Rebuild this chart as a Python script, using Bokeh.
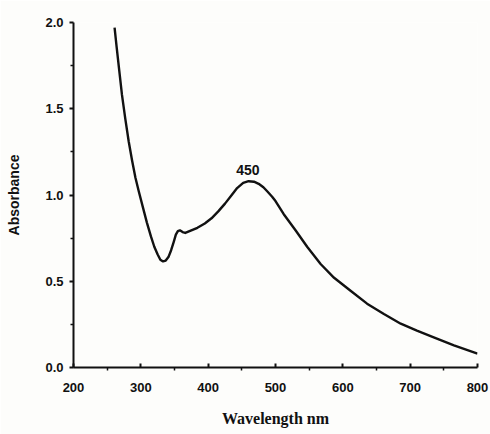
from bokeh.plotting import figure
from bokeh.embed import file_html
from bokeh.resources import INLINE
from bokeh.models import Range1d, FixedTicker, Label

# Data
wavelength = [261, 264, 268, 272, 277, 282, 287, 292, 297, 303, 309, 315, 320, 325, 329,
              333, 337, 341, 345, 349, 352, 355, 358, 362, 366, 375, 384, 395, 405, 415,
              425, 435, 443, 452, 460, 468, 475, 482, 488, 495, 500, 512, 530, 547, 567,
              587, 611, 636, 661, 686, 710, 735, 765, 800]
absorbance = [1.97, 1.86, 1.72, 1.58, 1.44, 1.31, 1.20, 1.10, 1.02, 0.93, 0.84, 0.76, 0.70,
              0.655, 0.625, 0.615, 0.62, 0.64, 0.68, 0.73, 0.77, 0.79, 0.795, 0.785, 0.78,
              0.795, 0.81, 0.835, 0.865, 0.905, 0.95, 1.00, 1.04, 1.07, 1.08, 1.077, 1.065,
              1.045, 1.02, 0.99, 0.965, 0.89, 0.794, 0.70, 0.60, 0.52, 0.446, 0.37, 0.31,
              0.254, 0.214, 0.175, 0.128, 0.08]
x_ticks = [200, 300, 400, 500, 600, 700, 800]
y_ticks = [0.0, 0.5, 1.0, 1.5, 2.0]
peak_label = "450"
peak_x = 459
peak_y = 1.08

p = figure(width=490, height=434, output_backend="svg", toolbar_location=None,
           x_range=Range1d(200, 800), y_range=Range1d(0, 2.0),
           min_border_left=73, min_border_right=13, min_border_top=22, min_border_bottom=67)
p.outline_line_color = None
p.xgrid.visible = False
p.ygrid.visible = False
p.background_fill_color = "#fdfdfb"
p.border_fill_color = "#fdfdfb"

p.line(wavelength, absorbance, line_color="#111111", line_width=2.4, line_join="round")

lbl = Label(x=peak_x, y=peak_y, text=peak_label, text_font="Liberation Sans",
            text_font_size="14px", text_font_style="bold", text_align="center",
            text_baseline="bottom", y_offset=6, text_color="#111111")
p.add_layout(lbl)

for ax in (p.xaxis[0], p.yaxis[0]):
    ax.axis_line_width = 2
    ax.axis_line_color = "#111111"
    ax.major_tick_line_color = "#111111"
    ax.major_tick_line_width = 2
    ax.minor_tick_line_color = "#111111"
    ax.minor_tick_line_width = 1.5
    ax.major_label_text_font = "Liberation Sans"
    ax.major_label_text_font_style = "bold"
    ax.major_label_text_font_size = "13px"
    ax.major_label_text_color = "#111111"
    ax.axis_label_text_color = "#111111"

p.xaxis.ticker = FixedTicker(ticks=x_ticks, minor_ticks=[250, 350, 450, 550, 650, 750])
p.yaxis.ticker = FixedTicker(ticks=y_ticks, minor_ticks=[0.25, 0.75, 1.25, 1.75])
p.yaxis.major_label_overrides = {t: f"{t:.1f}" for t in y_ticks}

p.xaxis.major_tick_in = 4
p.xaxis.major_tick_out = 0
p.xaxis.minor_tick_in = 0
p.xaxis.minor_tick_out = 3
p.xaxis.major_label_standoff = 12

p.yaxis.major_tick_in = 0
p.yaxis.major_tick_out = 4
p.yaxis.minor_tick_in = 0
p.yaxis.minor_tick_out = 3
p.yaxis.major_label_standoff = 6

p.xaxis.axis_label = "Wavelength nm"
p.xaxis.axis_label_text_font = "Liberation Serif"
p.xaxis.axis_label_text_font_style = "bold"
p.xaxis.axis_label_text_font_size = "16px"
p.xaxis.axis_label_standoff = 15

p.yaxis.axis_label = "Absorbance"
p.yaxis.axis_label_text_font = "Liberation Sans"
p.yaxis.axis_label_text_font_style = "bold"
p.yaxis.axis_label_text_font_size = "14px"
p.yaxis.axis_label_standoff = 20

open("out.html", "w").write(file_html(p, INLINE))
